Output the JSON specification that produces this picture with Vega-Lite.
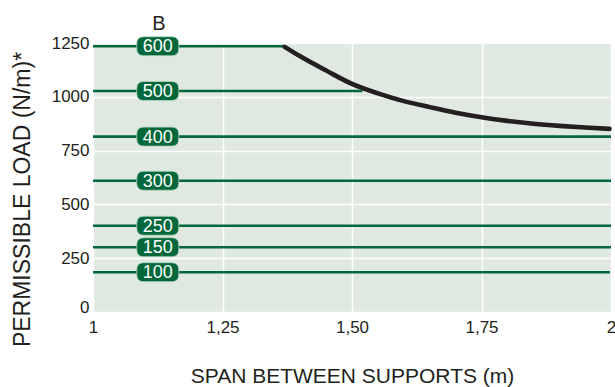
{
  "$schema": "https://vega.github.io/schema/vega-lite/v6.json",
  "width": 518,
  "height": 269,
  "autosize": "none",
  "padding": {"left": 93, "top": 43, "right": 4, "bottom": 75},
  "background": "#ffffff",
  "config": {
    "font": "Liberation Sans",
    "view": {"fill": "#dfe9e1", "stroke": null}
  },
  "title": {
    "text": "B",
    "anchor": "start",
    "frame": "group",
    "align": "center",
    "dx": 66,
    "dy": 22,
    "offset": 6,
    "baseline": "alphabetic",
    "fontSize": 20,
    "fontWeight": "normal",
    "color": "#231f20"
  },
  "datasets": {
    "levels": [
      {"label": "600", "load": 1235, "xstart": 1, "xend": 1.37},
      {"label": "500", "load": 1027, "xstart": 1, "xend": 1.52},
      {"label": "400", "load": 815, "xstart": 1, "xend": 2},
      {"label": "300", "load": 610, "xstart": 1, "xend": 2},
      {"label": "250", "load": 401, "xstart": 1, "xend": 2},
      {"label": "150", "load": 301, "xstart": 1, "xend": 2},
      {"label": "100", "load": 185, "xstart": 1, "xend": 1.998}
    ],
    "curve": [
      {"span": 1.37, "load": 1232},
      {"span": 1.40, "load": 1188},
      {"span": 1.45, "load": 1122},
      {"span": 1.50, "load": 1060},
      {"span": 1.55, "load": 1016},
      {"span": 1.60, "load": 980},
      {"span": 1.65, "load": 952},
      {"span": 1.70, "load": 926},
      {"span": 1.75, "load": 905},
      {"span": 1.80, "load": 888},
      {"span": 1.85, "load": 875},
      {"span": 1.90, "load": 865},
      {"span": 1.95, "load": 857},
      {"span": 1.997, "load": 851}
    ]
  },
  "encoding": {
    "x": {
      "type": "quantitative",
      "scale": {"domain": [1, 2], "nice": false, "zero": false},
      "axis": {
        "title": "SPAN BETWEEN SUPPORTS (m)",
        "values": [1, 1.25, 1.5, 1.75, 2],
        "labelExpr": "datum.value == 1 ? '1' : datum.value == 2 ? '2' : replace(format(datum.value, '.2f'), '.', ',')",
        "domain": false,
        "ticks": false,
        "grid": true,
        "gridColor": "#ffffff",
        "gridWidth": 1.5,
        "gridOpacity": 1,
        "labelFontSize": 17,
        "labelColor": "#231f20",
        "labelPadding": 7,
        "labelFlush": false,
        "titleFontSize": 21,
        "titleFontWeight": "normal",
        "titleColor": "#231f20",
        "titleBaseline": "alphabetic",
        "titleY": 70
      }
    },
    "y": {
      "type": "quantitative",
      "scale": {"domain": [0, 1250], "nice": false},
      "axis": {
        "title": "PERMISSIBLE LOAD (N/m)*",
        "values": [0, 250, 500, 750, 1000, 1250],
        "format": "d",
        "domain": false,
        "ticks": false,
        "grid": true,
        "gridColor": "#ffffff",
        "gridWidth": 1.5,
        "gridOpacity": 1,
        "labelFontSize": 17,
        "labelColor": "#231f20",
        "labelPadding": 4,
        "labelOffset": {"condition": {"test": "datum.value == 0", "value": -5}, "value": 0},
        "titleFontSize": 23,
        "titleFontWeight": "normal",
        "titleColor": "#231f20",
        "titleBaseline": "alphabetic",
        "titleX": -64,
        "titleY": 156
      }
    }
  },
  "layer": [
    {
      "data": {"name": "levels"},
      "mark": {"type": "rule", "color": "#00683a", "strokeWidth": 2.6},
      "encoding": {
        "x": {"field": "xstart"},
        "x2": {"field": "xend"},
        "y": {"field": "load"}
      }
    },
    {
      "data": {"name": "curve"},
      "mark": {"type": "line", "color": "#231f20", "strokeWidth": 4.6, "strokeCap": "round", "interpolate": "monotone"},
      "encoding": {
        "x": {"field": "span"},
        "y": {"field": "load"}
      }
    },
    {
      "data": {"name": "levels"},
      "mark": {
        "type": "point",
        "filled": true,
        "shape": "M-0.67,-0.452 L0.67,-0.452 Q1,-0.452 1,-0.12 L1,0.12 Q1,0.452 0.67,0.452 L-0.67,0.452 Q-1,0.452 -1,0.12 L-1,-0.12 Q-1,-0.452 -0.67,-0.452 Z",
        "size": 1764,
        "color": "#00683a",
        "stroke": "#b9d4c2",
        "strokeWidth": 0.8,
        "opacity": 1
      },
      "encoding": {
        "x": {"datum": 1.125},
        "y": {"field": "load"}
      }
    },
    {
      "data": {"name": "levels"},
      "mark": {"type": "text", "color": "#ffffff", "fontSize": 18, "baseline": "middle", "align": "center", "dy": 1},
      "encoding": {
        "x": {"datum": 1.125},
        "y": {"field": "load"},
        "text": {"field": "label"}
      }
    }
  ]
}
